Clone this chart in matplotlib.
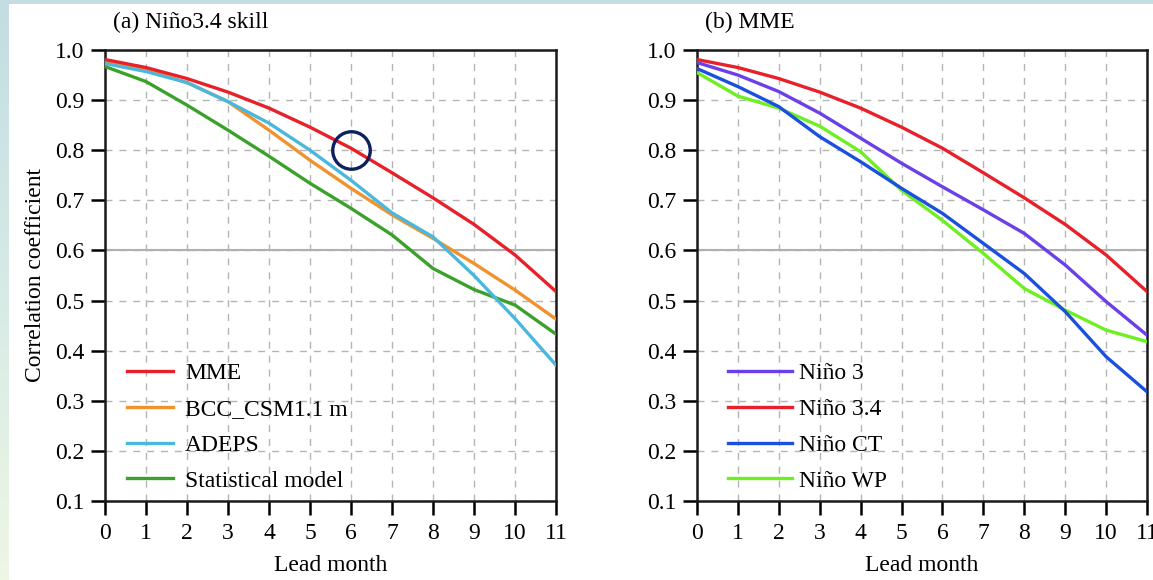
import numpy as np
import matplotlib
matplotlib.use("Agg")
import matplotlib.pyplot as plt
from matplotlib.colors import LinearSegmentedColormap

plt.rcParams['font.family'] = ['Liberation Serif', 'DejaVu Serif']
plt.rcParams['font.size'] = 17

lead = list(range(12))

# Panel (a)
mme = [0.981, 0.965, 0.943, 0.916, 0.884, 0.846, 0.804, 0.755, 0.705, 0.652, 0.591, 0.518]
bcc = [0.975, 0.960, 0.935, 0.897, 0.840, 0.780, 0.724, 0.671, 0.624, 0.574, 0.521, 0.463]
adeps = [0.973, 0.957, 0.935, 0.897, 0.854, 0.800, 0.740, 0.675, 0.627, 0.550, 0.464, 0.371]
stat = [0.967, 0.937, 0.890, 0.840, 0.788, 0.734, 0.684, 0.631, 0.564, 0.522, 0.491, 0.433]

# Panel (b)
nino3 = [0.975, 0.950, 0.917, 0.874, 0.824, 0.774, 0.727, 0.681, 0.634, 0.571, 0.498, 0.431]
nino34 = mme
ninoct = [0.963, 0.927, 0.887, 0.827, 0.777, 0.724, 0.674, 0.614, 0.554, 0.478, 0.388, 0.318]
ninowp = [0.955, 0.908, 0.884, 0.848, 0.797, 0.720, 0.660, 0.594, 0.524, 0.481, 0.441, 0.418]

highlight = (6, 0.8)

W, H = 1153, 580
fig = plt.figure(figsize=(W / 100, H / 100), dpi=100)
fig.patch.set_facecolor('white')

# decorative border (top band and left gradient band)
bg = fig.add_axes([0, 0, 1, 1], zorder=-10)
bg.set_xlim(0, W)
bg.set_ylim(H, 0)
bg.axis('off')
bg.add_patch(plt.Rectangle((0, 0), W, 4, color='#c3dde2', lw=0))
grad = np.linspace(0, 1, 100).reshape(-1, 1)
cm = LinearSegmentedColormap.from_list('b', ['#c3dde2', '#d6ebe6', '#eef6e4'])
bg.imshow(grad, cmap=cm, extent=(0, 9, H, 0), aspect='auto')

FS = 17

def setup(ax):
    ax.set_xlim(0, 11)
    ax.set_ylim(0.1, 1.0)
    ax.set_xticks(range(12))
    yt = np.round(np.arange(0.1, 1.01, 0.1), 1)
    ax.set_yticks(yt)
    ax.set_yticklabels([f"{v:.1f}" for v in yt])
    ax.grid(True, color='#b4b4b4', linestyle=(0, (5, 5)), linewidth=1.0)
    ax.axhline(0.6, color='#b0b0b0', lw=1.5, zorder=1.5)
    for s in ax.spines.values():
        s.set_linewidth(1.8)
        s.set_color('#1a1a1a')
    ax.tick_params(direction='out', length=10, width=1.8, pad=5, labelsize=FS)
    ax.tick_params(axis='x', pad=6)
    ax.set_xlabel('Lead month', fontsize=FS, labelpad=8)
    ax.set_axisbelow(True)

ax1 = fig.add_axes([105 / W, 1 - 501 / H, 451 / W, 451 / H])
ax2 = fig.add_axes([697 / W, 1 - 501 / H, 450 / W, 451 / H])

lw = 2.4
ax1.plot(lead, mme, color='#e8202a', lw=lw, label='MME', zorder=5)
ax1.plot(lead, bcc, color='#f0922e', lw=lw, label='BCC_CSM1.1 m', zorder=3)
ax1.plot(lead, adeps, color='#4ab8dc', lw=lw, label='ADEPS', zorder=4)
ax1.plot(lead, stat, color='#3aa22a', lw=lw, label='Statistical model', zorder=3)
ax1.plot([highlight[0]], [highlight[1]], marker='o', ms=27, mfc='none',
         mec='#0e2060', mew=2.4, zorder=6)
setup(ax1)
ax1.set_ylabel('Correlation coefficient', fontsize=FS, labelpad=6)
h, l = ax1.get_legend_handles_labels()
ax1.legend(h, l, loc='lower left', bbox_to_anchor=(0.028, 0.0), frameon=False,
           handlelength=1.95, handletextpad=0.5, labelspacing=0.6, fontsize=FS,
           borderaxespad=0)
fig.text(113 / W, 1 - 28 / H, '(a) Niño3.4 skill', fontsize=FS, ha='left', va='baseline')

ax2.plot(lead, nino3, color='#6a40e8', lw=lw, label='Niño 3', zorder=4)
ax2.plot(lead, nino34, color='#e8202a', lw=lw, label='Niño 3.4', zorder=5)
ax2.plot(lead, ninoct, color='#1a4fe0', lw=lw, label='Niño CT', zorder=4)
ax2.plot(lead, ninowp, color='#6ef020', lw=lw, label='Niño WP', zorder=3)
setup(ax2)
ax2.legend(loc='lower left', bbox_to_anchor=(0.048, 0.0), frameon=False,
           handlelength=2.7, handletextpad=0.3, labelspacing=0.6, fontsize=FS,
           borderaxespad=0)
fig.text(705 / W, 1 - 28 / H, '(b) MME', fontsize=FS, ha='left', va='baseline')

fig.savefig('out.png', dpi=100)
